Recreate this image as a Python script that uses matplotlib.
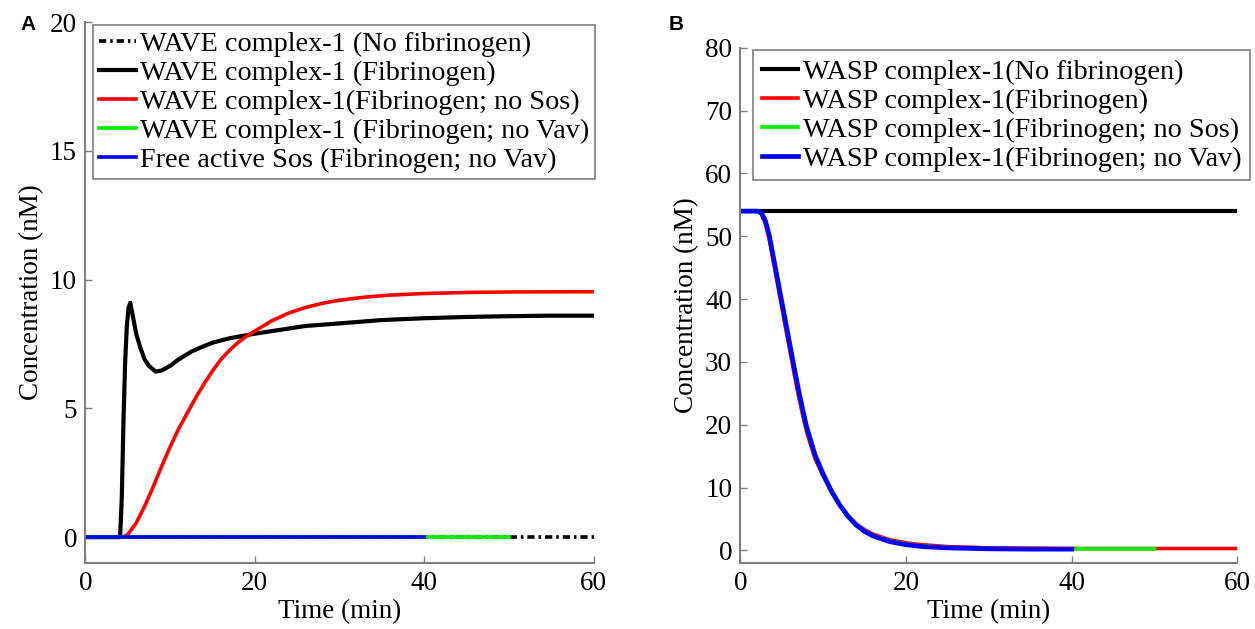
import matplotlib.pyplot as plt

# ---- Panel A data (WAVE complex-1, nM vs min) ----
t_wave_fib = [0, 4.1, 4.3, 4.5, 4.7, 4.9, 5.1, 5.3, 5.6, 6.0, 6.5, 7.0, 7.5, 8.3, 9.0,
              10, 11, 12.5, 13.5, 15, 17, 20, 23, 26, 30, 35, 40, 45, 50, 55, 60]
wave_fib = [0, 0, 1.5, 4.5, 6.8, 8.2, 8.9, 9.1, 8.6, 7.9, 7.35, 6.9, 6.65, 6.43, 6.47,
            6.65, 6.9, 7.2, 7.35, 7.55, 7.72, 7.9, 8.05, 8.2, 8.3, 8.43, 8.5, 8.55, 8.58, 8.6, 8.6]

t_wave_nosos = [0, 4.4, 5, 6, 7, 8, 9, 10, 11, 12, 13, 14, 15, 16, 17, 18, 19, 20,
                22, 24, 26, 28, 30, 33, 36, 40, 45, 50, 60]
wave_nosos = [0, 0, 0.1, 0.55, 1.2, 1.95, 2.75, 3.5, 4.2, 4.8, 5.4, 5.95, 6.45, 6.9, 7.25,
              7.55, 7.8, 8.0, 8.4, 8.7, 8.92, 9.08, 9.2, 9.32, 9.4, 9.46, 9.5, 9.52, 9.53]

t_wave_nofib = [0, 60]
wave_nofib = [0, 0]
t_wave_novav = [0, 50]
wave_novav = [0, 0]
t_sos_novav = [0, 40]
sos_novav = [0, 0]

# ---- Panel B data (WASP complex-1, nM vs min) ----
t_wasp_nofib = [0, 60]
wasp_nofib = [54, 54]

t_wasp = [0, 2.0, 2.5, 3.0, 3.5, 4.0, 4.5, 5.0, 5.5, 6.0, 6.5, 7.0, 7.5, 8.0, 9.0, 10,
          11, 12, 13, 14, 15, 16, 18, 20, 22, 25, 30, 35, 40, 50, 60]
wasp_fib = [54, 54, 53.6, 52.0, 49.3, 45.8, 42.2, 38.6, 35.0, 31.5, 28.0, 24.6, 21.6, 18.8,
            14.6, 11.8, 9.3, 7.2, 5.5, 4.2, 3.3, 2.6, 1.7, 1.2, 0.9, 0.6, 0.4, 0.35, 0.3, 0.3, 0.3]
wasp_nosos = [54, 54, 53.8, 52.4, 49.9, 46.4, 42.8, 39.2, 35.6, 32.1, 28.6, 25.2, 22.1, 19.3,
              15.0, 12.0, 9.4, 7.2, 5.4, 4.1, 3.1, 2.4, 1.5, 1.0, 0.7, 0.45, 0.3, 0.25, 0.25, 0.25, 0.25]
wasp_novav = [54, 54, 53.8, 52.5, 50.0, 46.5, 43.0, 39.5, 36.0, 32.5, 29.0, 25.6, 22.5, 19.6,
              15.2, 12.1, 9.4, 7.2, 5.4, 4.0, 3.0, 2.3, 1.4, 0.9, 0.6, 0.4, 0.25, 0.2, 0.2, 0.2, 0.2]

serif = 'Liberation Serif'
plt.rcParams['font.family'] = serif
plt.rcParams['font.size'] = 19

fig = plt.figure(figsize=(12.55, 6.29), dpi=100)
axA = fig.add_axes([0.068, 0.105, 0.405, 0.86])
axB = fig.add_axes([0.590, 0.105, 0.396, 0.819])

lw = 2.6
dashdot = (0, (2.0, 1.1, 0.7, 1.1))

# Panel A
axA.plot(t_wave_nofib, wave_nofib, color='k', lw=lw, linestyle=dashdot,
         label='WAVE complex-1 (No fibrinogen)')
axA.plot(t_wave_fib, wave_fib, color='k', lw=lw + 0.4, label='WAVE complex-1 (Fibrinogen)')
axA.plot(t_wave_nosos, wave_nosos, color='#ff0000', lw=lw, label='WAVE complex-1(Fibrinogen; no Sos)')
axA.plot(t_wave_novav, wave_novav, color='#00ee00', lw=lw, label='WAVE complex-1 (Fibrinogen; no Vav)')
axA.plot(t_sos_novav, sos_novav, color='#0000ff', lw=lw, label='Free active Sos (Fibrinogen; no Vav)')
axA.set_xlim(0, 60)
axA.set_ylim(-1, 20)
axA.set_xticks([0, 20, 40, 60])
axA.set_yticks([0, 5, 10, 15, 20])

# Panel B
axB.plot(t_wasp_nofib, wasp_nofib, color='k', lw=lw + 0.4, label='WASP complex-1(No fibrinogen)')
axB.plot(t_wasp, wasp_fib, color='#ff0000', lw=lw, label='WASP complex-1(Fibrinogen)')
nB = t_wasp.index(50) + 1
axB.plot(t_wasp[:nB], wasp_nosos[:nB], color='#00ee00', lw=lw, label='WASP complex-1(Fibrinogen; no Sos)')
nB = t_wasp.index(40) + 1
axB.plot(t_wasp[:nB], wasp_novav[:nB], color='#0000ff', lw=lw + 0.8, label='WASP complex-1(Fibrinogen; no Vav)')
axB.set_xlim(0, 60)
axB.set_ylim(-2, 80)
axB.set_xticks([0, 20, 40, 60])
axB.set_yticks(range(0, 81, 10))

for ax in (axA, axB):
    for s in ('top', 'right'):
        ax.spines[s].set_visible(False)
    for s in ('left', 'bottom'):
        ax.spines[s].set_color('#808080')
        ax.spines[s].set_linewidth(1.5)
    ax.tick_params(direction='in', length=5, color='#808080', width=1, labelsize=19.5, pad=6)
    ax.set_xlabel('Time (min)', fontsize=19.5, labelpad=2)
    ax.set_ylabel('Concentration (nM)', fontsize=19.5, labelpad=4)

legA = axA.legend(loc='upper left', bbox_to_anchor=(0.016, 0.994), borderaxespad=0,
                  fontsize=20.3, frameon=True, fancybox=False, framealpha=1,
                  handlelength=1.3, handletextpad=0.15, labelspacing=0.12, borderpad=0.2)
legB = axB.legend(loc='upper left', bbox_to_anchor=(0.026, 0.995), borderaxespad=0,
                  fontsize=20.3, frameon=True, fancybox=False, framealpha=1,
                  handlelength=1.3, handletextpad=0.15, labelspacing=0.12, borderpad=0.3)
for leg in (legA, legB):
    leg.get_frame().set_edgecolor('#808080')
    leg.get_frame().set_linewidth(1.2)

fig.text(0.016, 0.952, 'A', fontsize=15, fontweight='bold', family='Liberation Sans')
fig.text(0.533, 0.952, 'B', fontsize=15, fontweight='bold', family='Liberation Sans')

fig.savefig('out.png', dpi=100)
